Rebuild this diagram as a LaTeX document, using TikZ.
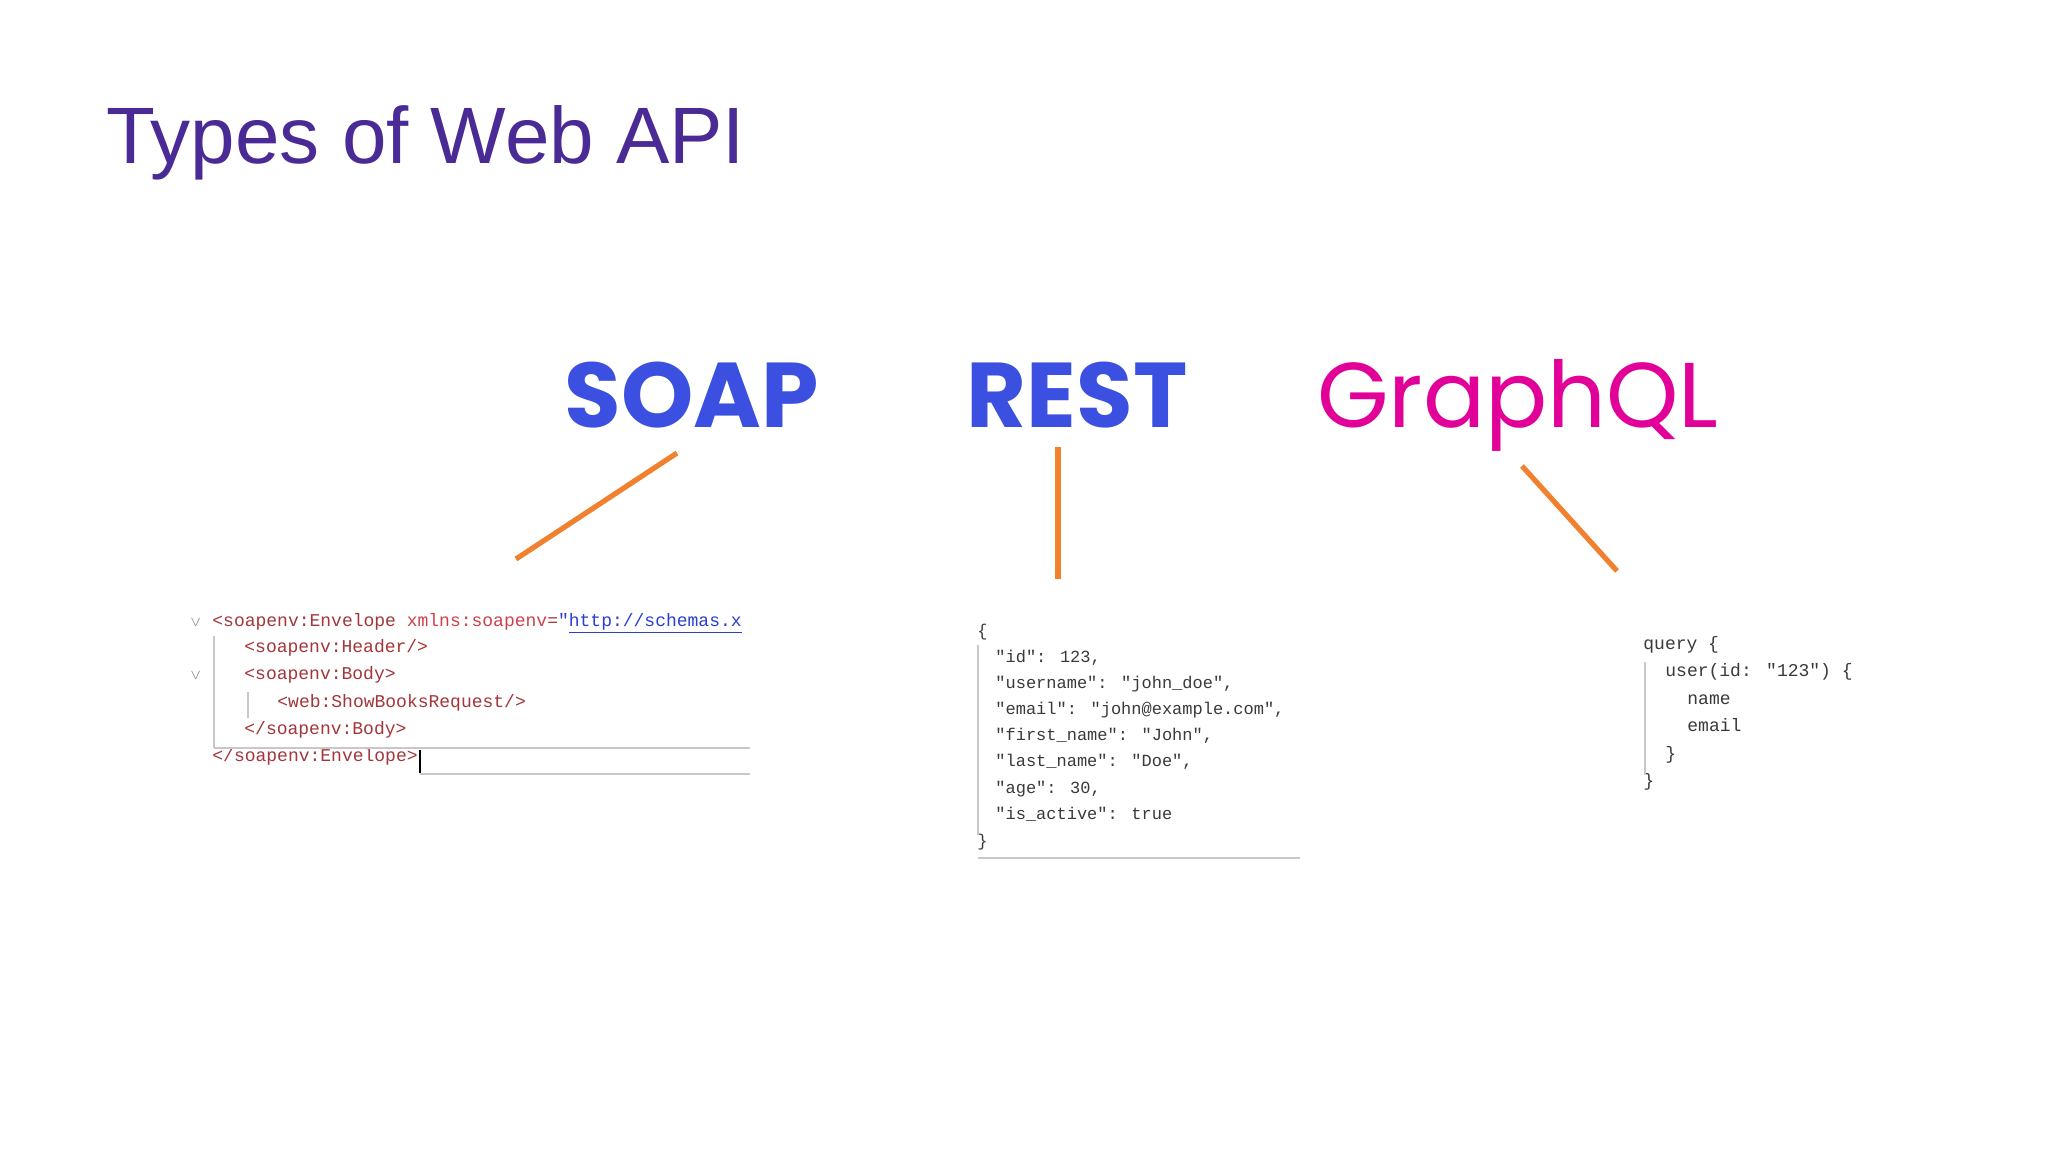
\documentclass[tikz,border=0pt]{standalone}
\usepackage{fontspec}
\setmainfont{Liberation Sans}
\newfontfamily\geo{Poppins}
\newfontfamily\codefont{Liberation Mono}
\definecolor{ttl}{HTML}{4A2A94}
\definecolor{sblue}{HTML}{3B4FE0}
\definecolor{gmag}{HTML}{E10098}
\definecolor{org}{HTML}{F0812E}
\definecolor{xmlred}{HTML}{A3363A}
\definecolor{attr}{HTML}{D0404A}
\definecolor{lnk}{HTML}{2B3FD0}
\definecolor{code}{HTML}{3A3A3A}
\definecolor{guide}{HTML}{C8C8C8}
\begin{document}
\begin{tikzpicture}[x=0.5pt,y=-0.5pt,
  cl/.style={anchor=base west,inner sep=0pt,font=\codefont\fontsize{9}{9}\selectfont},
  big/.style={anchor=base,inner sep=0pt},
  conn/.style={draw=org,line width=2.6pt},
  gl/.style={draw=guide,line width=0.6pt}]
\useasboundingbox (0,0) rectangle (2048,1152);
\fill[white] (0,0) rectangle (2048,1152);
\node[anchor=base west,inner sep=0pt,text=ttl,font=\fontsize{40}{40}\selectfont] (title) at (106,163) {Types of Web API};
% headings
\node[big,text=sblue,font=\geo\bfseries\fontsize{46}{46}\selectfont] (soap) at (692,427) {SOAP};
\node[big,text=sblue,font=\geo\bfseries\fontsize{46}{46}\selectfont] (rest) at (1077,427) {REST};
\node[big,text=gmag,font=\geo\fontsize{46}{46}\selectfont] (gql) at (1518,427) {GraphQL};
% connectors
\coordinate (s1) at (677,453); \coordinate (s2) at (516,559);
\coordinate (r1) at (1058,447); \coordinate (r2) at (1058,579);
\coordinate (g1) at (1522,466); \coordinate (g2) at (1617,571);
\draw[conn] (s1) -- (s2);
\draw[conn] (r1) -- (r2);
\draw[conn] (g1) -- (g2);
% SOAP code
\begin{scope}[cl/.append style={text=xmlred}]
\node[cl,text=gray] (sv1) at (190,626) {\fontsize{7}{7}\selectfont$\vee$};
\node[cl,text=gray] (sv2) at (190,679) {\fontsize{7}{7}\selectfont$\vee$};
\node[cl] (sa) at (212,626) {<soapenv:Envelope \textcolor{attr}{xmlns:soapenv}=\textcolor{lnk}{"\underline{http://schemas.x}}};
\node[cl] (sb) at (244,652) {<soapenv:Header/>};
\node[cl] (sc) at (244,679) {<soapenv:Body>};
\node[cl] (sd) at (277,707) {<web:ShowBooksRequest/>};
\node[cl] (se) at (244,734) {</soapenv:Body>};
\node[cl] (sf) at (212,761) {</soapenv:Envelope>};
\end{scope}
\draw[gl] (214,636) -- (214,748);
\draw[gl] (248,692) -- (248,718);
\draw[gl] (214,748) -- (750,748);
\draw[gl] (420,774) -- (750,774);
\draw[black,line width=1pt] (420,750) -- (420,773);
% REST code
\begin{scope}[cl/.append style={text=code,font=\codefont\fontsize{8.5}{8.5}\selectfont}]
\node[cl] (ra) at (977,636) {\{};
\node[cl] (rb) at (995,662) {"id": 123,};
\node[cl] (rc) at (995,688) {"username": "john\_doe",};
\node[cl] (rd) at (995,714) {"email": "john@example.com",};
\node[cl] (re) at (995,740) {"first\_name": "John",};
\node[cl] (rf) at (995,766) {"last\_name": "Doe",};
\node[cl] (rg) at (995,793) {"age": 30,};
\node[cl] (rh) at (995,819) {"is\_active": true};
\node[cl] (ri) at (977,846) {\}};
\end{scope}
\draw[gl] (978,645) -- (978,835);
\draw[gl] (978,858) -- (1300,858);
% GraphQL code
\begin{scope}[cl/.append style={text=code}]
\node[cl] (ga) at (1643,649) {query \{};
\node[cl] (gb) at (1665,676) {user(id: "123") \{};
\node[cl] (gc) at (1687,704) {name};
\node[cl] (gd) at (1687,731) {email};
\node[cl] (ge) at (1665,759) {\}};
\node[cl] (gf) at (1643,786) {\}};
\end{scope}
\draw[gl] (1645,662) -- (1645,775);
\end{tikzpicture}
\end{document}
